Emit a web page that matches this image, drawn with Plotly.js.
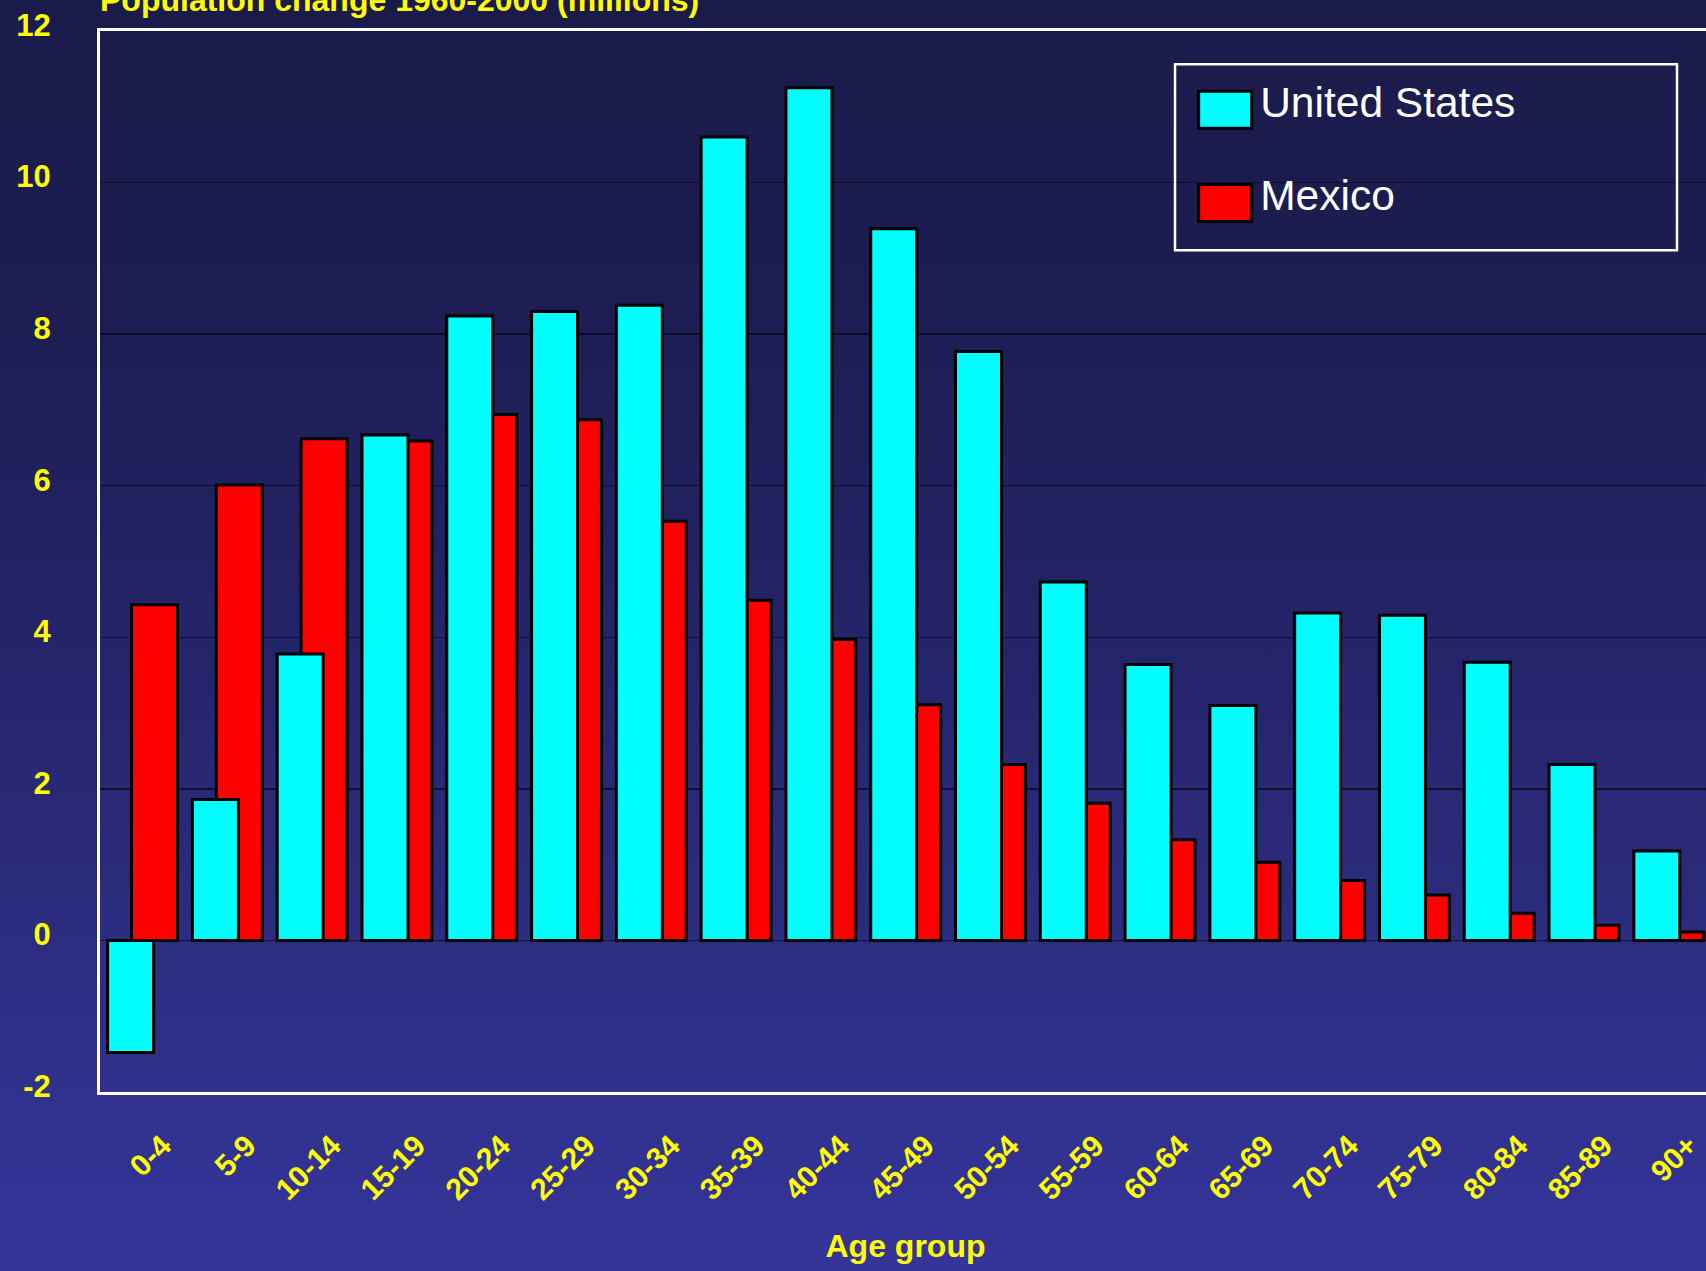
<!DOCTYPE html>
<html>
<head>
<meta charset="utf-8">
<script src="https://cdn.plot.ly/plotly-3.0.1.min.js"></script>
<style>
  html, body { margin: 0; padding: 0; overflow: hidden; width: 1706px; height: 1271px; }
  body { background: linear-gradient(to bottom, #1b1b4b 0%, #1c1c50 20%, #222264 45%, #2b2b7c 70%, #313190 88%, #34349a 100%); }
  #chart { width: 1716px; height: 1271px; }
</style>
</head>
<body>
<div id="chart"></div>
<script>
// ---- data ----
const ageGroups = ["0-4","5-9","10-14","15-19","20-24","25-29","30-34","35-39","40-44","45-49",
                   "50-54","55-59","60-64","65-69","70-74","75-79","80-84","85-89","90+"];
const unitedStates = [-1.48, 1.86, 3.78, 6.67, 8.24, 8.30, 8.38, 10.60, 11.25, 9.39,
                      7.77, 4.73, 3.64, 3.10, 4.32, 4.29, 3.67, 2.32, 1.18];
const mexico = [4.43, 6.01, 6.62, 6.59, 6.94, 6.87, 5.53, 4.49, 3.97, 3.11,
                2.32, 1.81, 1.33, 1.03, 0.79, 0.60, 0.36, 0.20, 0.11];
const yTicks = [-2, 0, 2, 4, 6, 8, 10, 12];
const titleText = "Population change 1960-2000 (millions)";
const xTitleText = "Age group";

const FONT = "Arial, 'Liberation Sans', sans-serif";
const YELLOW = "#ffff00";

const traces = [
  {
    type: "bar", name: "Mexico", x: ageGroups, y: mexico,
    legendgroup: "mx", legendrank: 2,
    width: 0.542, offset: -0.128,
    marker: { color: "#ff0000", line: { color: "#000000", width: 3 } },
    hoverinfo: "x+y+name"
  },
  {
    type: "bar", name: "United States", x: ageGroups, y: unitedStates,
    legendgroup: "us", legendrank: 1,
    width: 0.542, offset: -0.41,
    marker: { color: "#00ffff", line: { color: "#000000", width: 3 } },
    hoverinfo: "x+y+name"
  }
];

const layout = {
  width: 1716, height: 1271,
  margin: { l: 100, r: 5, t: 31, b: 179 },
  paper_bgcolor: "rgba(0,0,0,0)",
  plot_bgcolor: "rgba(0,0,0,0)",
  barmode: "overlay",
  showlegend: true,
  title: {
    text: titleText,
    font: { family: FONT, size: 32, color: YELLOW, weight: "bold" },
    xref: "paper", x: 0, xanchor: "left",
    yref: "container", y: 1, yanchor: "middle"
  },
  xaxis: {
    type: "category",
    range: [-0.5, 18.5],
    tickangle: -45,
    tickfont: { family: FONT, size: 30, color: YELLOW, weight: "bold" },
    ticks: "",
    ticklabelstandoff: 21,
    ticklabelshift: 20,
    showgrid: false,
    zeroline: false,
    showline: true, linecolor: "#ffffff", linewidth: 3, mirror: true,
    title: {
      text: xTitleText,
      font: { family: FONT, size: 32, color: YELLOW, weight: "bold" },
      standoff: 30
    },
    automargin: false,
    fixedrange: true
  },
  yaxis: {
    range: [-2, 12],
    tickvals: yTicks,
    ticktext: yTicks.map(String),
    tickfont: { family: FONT, size: 31, color: YELLOW, weight: "bold" },
    ticks: "",
    ticklabelstandoff: 40,
    ticklabelshift: -6,
    showgrid: true, gridcolor: "rgba(8,8,30,0.75)", gridwidth: 1.3,
    zeroline: true, zerolinecolor: "rgba(8,8,30,0.75)", zerolinewidth: 1.3,
    showline: true, linecolor: "#ffffff", linewidth: 3, mirror: true,
    automargin: false,
    fixedrange: true
  },
  legend: {
    x: 0.6767, y: 0.967, xanchor: "left", yanchor: "top",
    xref: "paper", yref: "paper",
    traceorder: "grouped",
    tracegroupgap: 35,
    itemwidth: 60,
    bgcolor: "rgba(0,0,0,0)",
    borderwidth: 0,
    font: { family: FONT, size: 42.5, color: "#ffffff" }
  },
  shapes: [
    {
      type: "rect", xref: "paper", yref: "paper",
      x0: 0.6673, x1: 0.9789, y0: 0.7934, y1: 0.9686,
      line: { color: "#ffffff", width: 2.5 },
      fillcolor: "rgba(0,0,0,0)",
      layer: "above"
    }
  ]
};

Plotly.newPlot("chart", traces, layout, { displayModeBar: false, staticPlot: true }).then(function (gd) {
  // enlarge the legend swatches to match the original's wide colour boxes
  const paths = gd.querySelectorAll(".legend .legendpoints path");
  paths.forEach(function (p) {
    p.setAttribute("d", "M26.5,28H-26.5V-9H26.5Z");
  });
});
</script>
</body>
</html>
